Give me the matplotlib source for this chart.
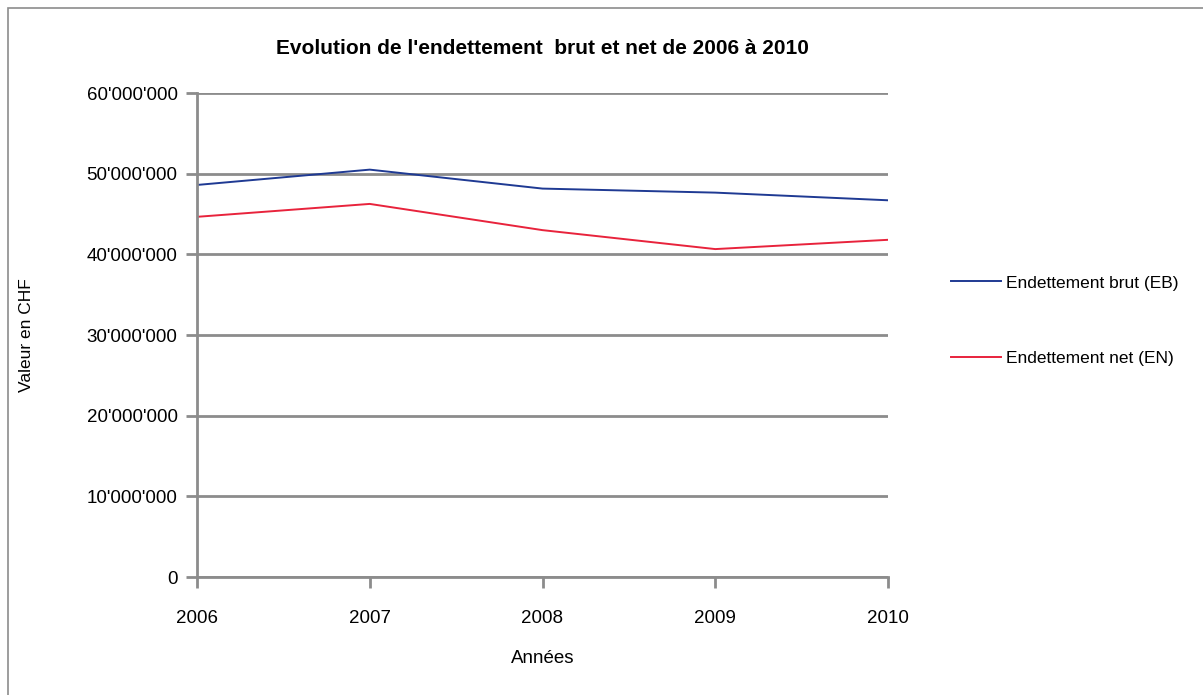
import matplotlib
matplotlib.use("Agg")
import matplotlib.pyplot as plt
from matplotlib.ticker import FuncFormatter, MultipleLocator
from matplotlib.patches import Rectangle

# données (CHF)
annees = [2006, 2007, 2008, 2009, 2010]
endettement_brut = [48_600_000, 50_500_000, 48_150_000, 47_650_000, 46_700_000]
endettement_net = [44_650_000, 46_250_000, 43_000_000, 40_650_000, 41_800_000]

plt.rcParams['font.family'] = ['Liberation Sans', 'DejaVu Sans']

grid_col = "#8c8c8c"
fig = plt.figure(figsize=(12.03, 6.95), dpi=100)
fig.patches.append(Rectangle((8 / 1203, -0.1), 1.2, 1 - 8 / 695 + 0.1,
                             transform=fig.transFigure, fill=False,
                             edgecolor="#8c8c8c", linewidth=1.2))

ax = fig.add_axes([197 / 1203, 1 - 577 / 695, 691 / 1203, 484 / 695])
ax.plot(annees, endettement_brut, color="#1f3a93", linewidth=1.4, label="Endettement brut (EB)")
ax.plot(annees, endettement_net, color="#e8233c", linewidth=1.4, label="Endettement net (EN)")

ax.set_xlim(2006, 2010)
ax.set_ylim(0, 60_000_000)
ax.yaxis.set_major_locator(MultipleLocator(10_000_000))
ax.set_xticks(annees)
ax.yaxis.set_major_formatter(FuncFormatter(lambda v, p: f"{int(v):,}".replace(",", "'")))
ax.grid(axis="y", color=grid_col, linewidth=2)
ax.set_axisbelow(True)

for s in ["top", "right"]:
    ax.spines[s].set_visible(False)
ax.spines["left"].set_color(grid_col)
ax.spines["left"].set_linewidth(2)
ax.spines["bottom"].set_color(grid_col)
ax.spines["bottom"].set_linewidth(2)
ax.tick_params(axis="y", length=8, width=2, color=grid_col, labelsize=13.5, pad=6)
ax.tick_params(axis="x", length=8, width=2, color=grid_col, labelsize=13.5, pad=16)

ax.set_title("Evolution de l'endettement  brut et net de 2006 à 2010",
             fontsize=15, fontweight="bold", pad=28)
ax.set_xlabel("Années", fontsize=13.5, labelpad=16)
ax.set_ylabel("Valeur en CHF", fontsize=12.5, labelpad=38)

ax.legend(loc="center left", bbox_to_anchor=(1.068, 0.53), frameon=False,
          fontsize=12.5, handlelength=2.9, labelspacing=3.45, handletextpad=0.3)

fig.savefig("out.png", dpi=100)
